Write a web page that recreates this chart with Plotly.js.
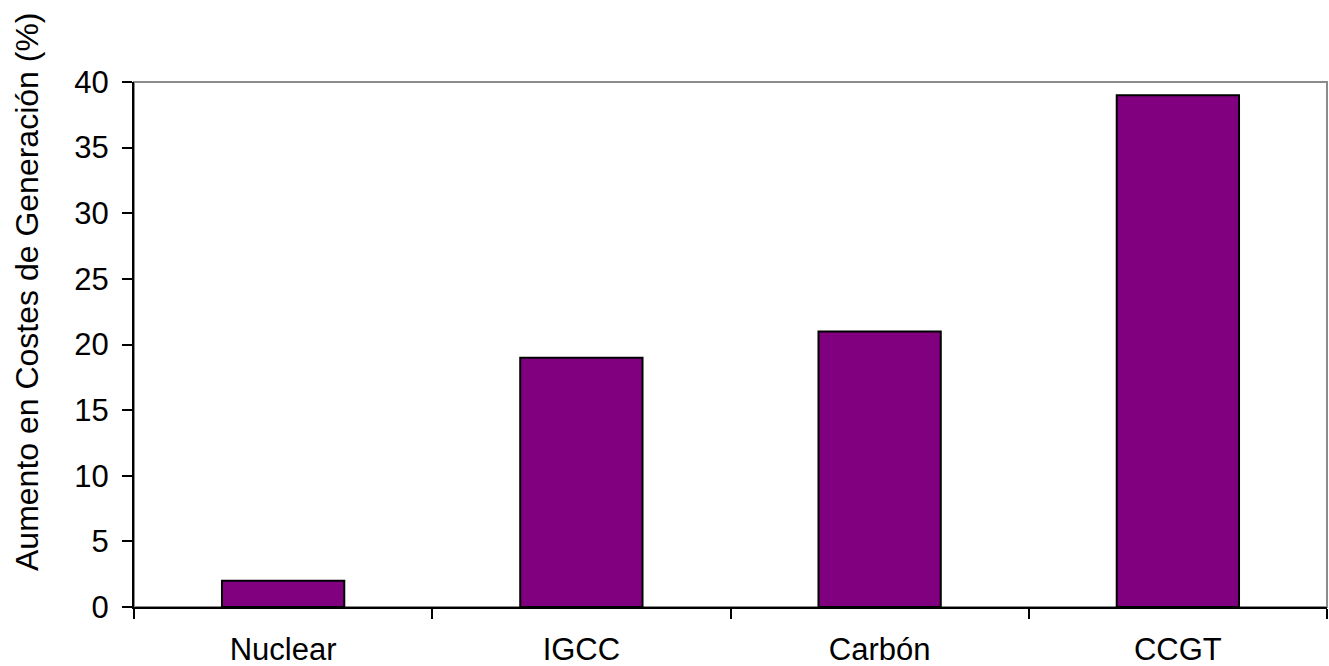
<!DOCTYPE html>
<html>
<head>
<meta charset="utf-8">
<script src="https://cdn.plot.ly/plotly-3.0.1.min.js"></script>
<style>html,body{margin:0;padding:0;background:#fff;}#chart{width:1329px;height:666px;}</style>
</head>
<body>
<div id="chart"></div>
<script>
const categories = ["Nuclear", "IGCC", "Carbón", "CCGT"];
const values = [2, 19, 21, 39];
const yTicks = [0, 5, 10, 15, 20, 25, 30, 35, 40];
const yTitle = "Aumento en Costes de Generación (%)";

const trace = {
  type: "bar",
  x: categories,
  y: values,
  width: 0.41,
  marker: {color: "#800080", line: {color: "#000000", width: 2}},
  hoverinfo: "none"
};

const fam = "Liberation Sans, Arial, sans-serif";
const tickFont = {family: fam, size: 31, color: "#000"};
const titleFont = {family: fam, size: 32, color: "#000"};

const layout = {
  width: 1329, height: 666,
  margin: {l: 134, r: 2, t: 82, b: 59, pad: 0},
  paper_bgcolor: "#fff", plot_bgcolor: "#fff",
  showlegend: false,
  font: tickFont,
  xaxis: {
    type: "category",
    range: [-0.5, 3.5],
    showgrid: false, zeroline: false,
    showline: true, linecolor: "#000", linewidth: 2,
    ticks: "outside", ticklen: 10, tickwidth: 2, tickcolor: "#000",
    tickson: "boundaries",
    ticklabelstandoff: 14,
    tickfont: tickFont,
    fixedrange: true
  },
  yaxis: {
    range: [0, 40],
    tickvals: yTicks,
    ticktext: yTicks.map(String),
    showgrid: false, zeroline: false,
    showline: true, linecolor: "#000", linewidth: 2,
    ticks: "outside", ticklen: 10, tickwidth: 2, tickcolor: "#000",
    ticklabelstandoff: 7,
    tickfont: tickFont,
    fixedrange: true
  },
  annotations: [{
    text: yTitle, textangle: -90, font: titleFont, showarrow: false,
    xref: "paper", yref: "paper", x: 0, y: 0.6, xanchor: "center", yanchor: "middle",
    xshift: -107
  }],
  shapes: [{
    type: "rect", xref: "paper", yref: "paper", x0: 0, x1: 1, y0: 0, y1: 1,
    line: {color: "#8c8c8c", width: 2}, layer: "below"
  }]
};

Plotly.newPlot("chart", [trace], layout, {displayModeBar: false, staticPlot: true});
</script>
</body>
</html>
